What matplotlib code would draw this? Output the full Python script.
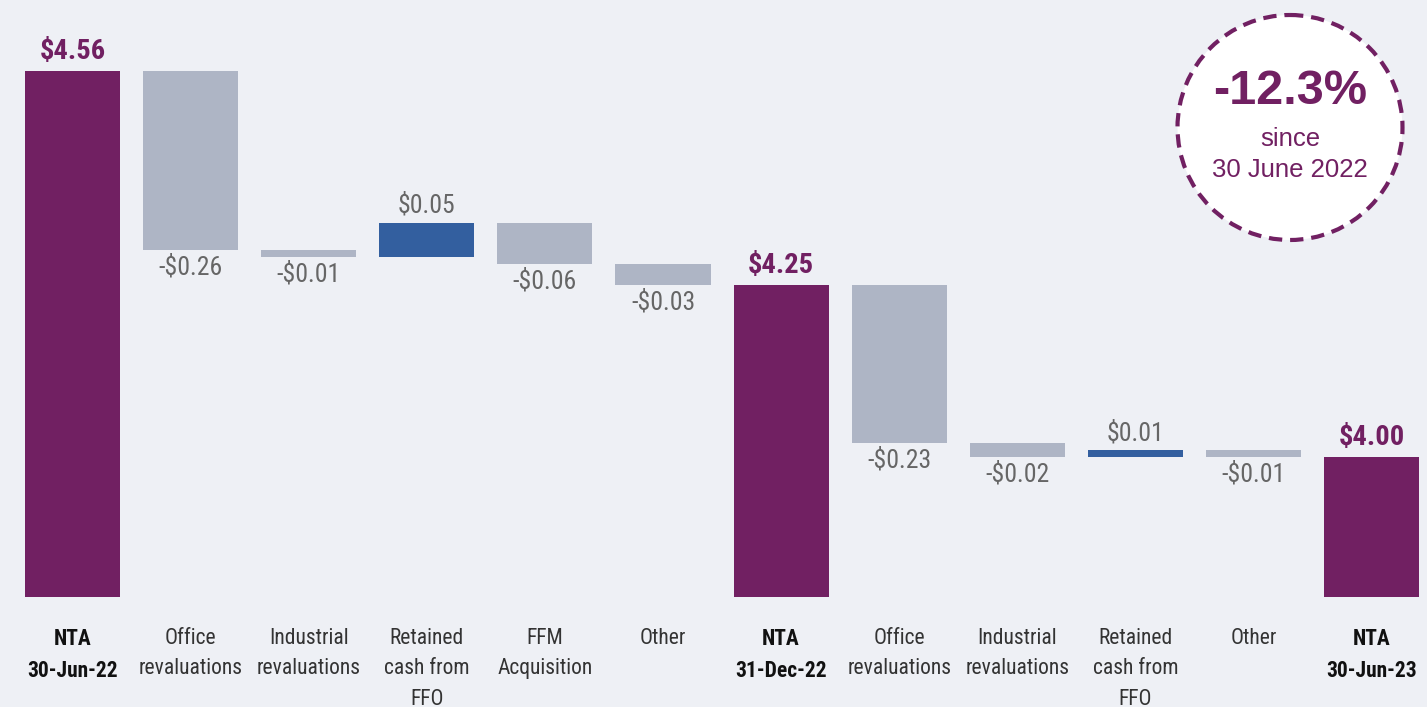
import matplotlib
matplotlib.use("Agg")
import matplotlib.pyplot as plt
from matplotlib import font_manager as fm
from matplotlib.patches import Circle
import numpy as np

categories = ["NTA\n30-Jun-22", "Office\nrevaluations", "Industrial\nrevaluations",
              "Retained\ncash from\nFFO", "FFM\nAcquisition", "Other",
              "NTA\n31-Dec-22", "Office\nrevaluations", "Industrial\nrevaluations",
              "Retained\ncash from\nFFO", "Other", "NTA\n30-Jun-23"]
kinds = ["total", "delta", "delta", "delta", "delta", "delta",
         "total", "delta", "delta", "delta", "delta", "total"]
values = [4.56, -0.26, -0.01, 0.05, -0.06, -0.03, 4.25, -0.23, -0.02, 0.01, -0.01, 4.00]
labels = ["$4.56", "-$0.26", "-$0.01", "$0.05", "-$0.06", "-$0.03",
          "$4.25", "-$0.23", "-$0.02", "$0.01", "-$0.01", "$4.00"]
badge_main = "-12.3%"
badge_sub = ["since", "30 June 2022"]

BG = "#eef0f5"
PURPLE = "#712062"
GREY = "#aeb5c5"
BLUE = "#335f9f"


def available(name):
    try:
        fm.findfont(fm.FontProperties(family=name), fallback_to_default=False)
        return True
    except Exception:
        return False


# condensed face if present, else a regular sans at a reduced size
SCALE = 1.0
NARROW = None
for cand in ["Roboto Condensed", "Archivo Narrow", "PT Sans Narrow"]:
    if available(cand):
        NARROW = [cand, "DejaVu Sans"]
        break
if NARROW is None:
    NARROW = ["Liberation Sans", "DejaVu Sans"]
    SCALE = 0.84
SANS = ["Liberation Sans", "DejaVu Sans"]

W, H = 1427, 707
fig = plt.figure(figsize=(W / 100, H / 100), dpi=100, facecolor=BG)
ax = fig.add_axes([0, (H - 597) / H, 1, 597 / H])
ax.set_facecolor(BG)

x = np.arange(len(values))
ymin, ymax = 3.797, 4.663
running = 0.0
for i, (k, v, lab) in enumerate(zip(kinds, values, labels)):
    if k == "total":
        ax.bar(i, v - ymin, bottom=ymin, width=0.805, color=PURPLE, linewidth=0)
        ax.annotate(lab, (i, v), xytext=(0, 6), textcoords="offset pixels",
                    ha="center", va="bottom", fontsize=20.5 * SCALE, fontweight="bold",
                    color=PURPLE, family=NARROW)
        running = v
    else:
        lo, hi = min(running, running + v), max(running, running + v)
        ax.bar(i, hi - lo, bottom=lo, width=0.805,
               color=BLUE if v > 0 else GREY, linewidth=0)
        if v > 0:
            ax.annotate(lab, (i, hi), xytext=(0, 5), textcoords="offset pixels",
                        ha="center", va="bottom", fontsize=18.5 * SCALE, color="#666666",
                        family=NARROW)
        else:
            ax.annotate(lab, (i, lo), xytext=(0, -5), textcoords="offset pixels",
                        ha="center", va="top", fontsize=18.5 * SCALE, color="#666666",
                        family=NARROW)
        running += v

ax.set_xlim(-0.614, 11.469)
ax.set_ylim(ymin, ymax)
for s in ax.spines.values():
    s.set_visible(False)
ax.set_yticks([])
ax.set_xticks(x)
ax.set_xticklabels(categories, family=NARROW, fontsize=15.5 * SCALE, color="#333333",
                   linespacing=1.6)
ax.tick_params(axis="x", length=0, pad=22)
for i, t in enumerate(ax.get_xticklabels()):
    if kinds[i] == "total":
        t.set_fontweight("bold")
        t.set_color("#111111")

ov = fig.add_axes([0, 0, 1, 1], facecolor="none")
ov.set_xlim(0, W)
ov.set_ylim(H, 0)
ov.axis("off")
ov.add_patch(Circle((1290, 127.5), 112.5, facecolor="white", edgecolor=PURPLE,
                    linewidth=3, linestyle=(0, (3.2, 1.9))))
ov.text(1290, 91, badge_main, ha="center", va="center", fontsize=35,
        fontweight="bold", color=PURPLE, family=SANS)
ov.text(1290, 139, badge_sub[0], ha="center", va="center", fontsize=18.5,
        color=PURPLE, family=SANS)
ov.text(1290, 170, badge_sub[1], ha="center", va="center", fontsize=18.5,
        color=PURPLE, family=SANS)

fig.savefig("out.png", dpi=100, facecolor=BG)
